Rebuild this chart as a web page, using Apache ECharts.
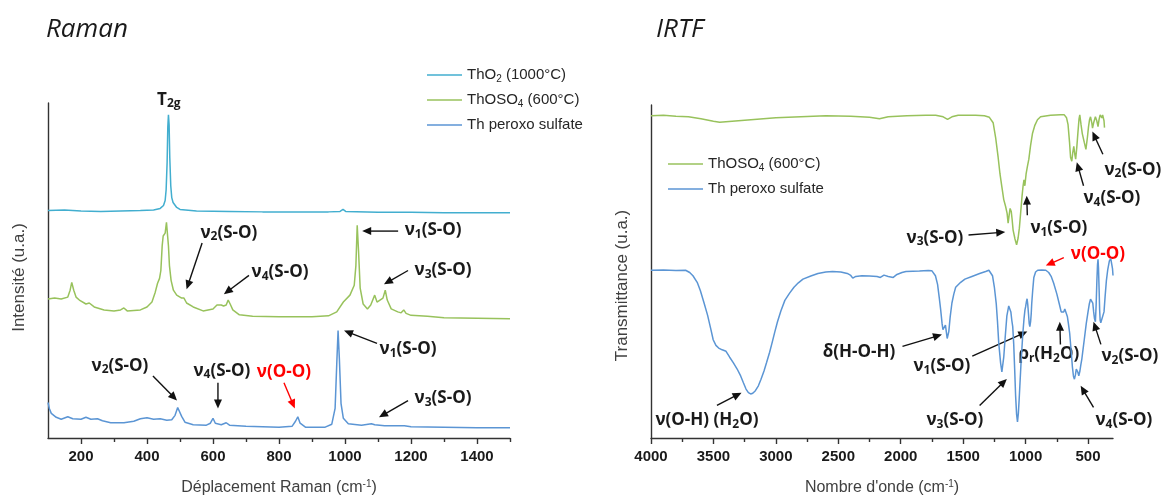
<!DOCTYPE html>
<html><head><meta charset="utf-8">
<script src="https://cdn.jsdelivr.net/npm/echarts@6/dist/echarts.min.js"></script>
<style>html,body{margin:0;padding:0;background:#fff}#c{width:1165px;height:502px}</style>
</head><body><div id="c"></div>
<script>
// ---------- DATA ----------
const ramanThO2 = [[100,231],[150,231.5],[200,230.5],[260,230],[320,230.5],[380,231],[420,231.5],[440,233],[450,236],[455,241],[458,252],[461,280],[463,315],[465,328],[467,318],[469,285],[472,256],[475,244],[479,239],[484,237],[490,234],[500,232],[550,230.5],[650,230],[750,229.5],[850,229.5],[950,229.5],[985,230],[994,232],[1002,230],[1100,229],[1200,229],[1300,228.5],[1400,228.5],[1500,228.5]];
const ramanThOSO4 = [[100,141],[120,142],[140,141],[160,143],[167,150],[172,158],[178,150],[185,143],[195,140],[215,136],[225,137],[240,133],[270,130],[300,129],[320,130],[330,132],[340,129],[380,130],[400,133],[415,138],[425,148],[432,157],[438,162],[442,170],[446,195],[449,205],[452,204],[455,208],[459,219],[462,219],[465,195],[468,175],[473,160],[480,150],[490,145],[505,142],[512,142],[520,137],[540,133],[570,129],[600,131],[612,135],[618,137],[625,135],[632,134],[640,135],[646,140],[652,136],[660,130],[680,125],[720,123.5],[800,123],[900,123],[950,124],[975,128],[995,138],[1015,145],[1028,155],[1033,175],[1037,216],[1041,190],[1046,152],[1055,136],[1068,131],[1078,135],[1090,145],[1097,138],[1103,137],[1115,142],[1122,150],[1128,140],[1140,131],[1160,128],[1170,127],[1178,130],[1185,126.5],[1200,124.5],[1250,123.5],[1300,122],[1400,121.5],[1500,121]];
const ramanPeroxo = [[100,36],[104,30],[110,25],[125,21],[140,19],[160,21.5],[175,19.5],[200,19],[215,21],[230,19],[250,19.5],[265,17.5],[290,15.5],[330,15.5],[360,17],[380,19.5],[400,20.5],[420,19],[440,19.5],[460,18],[475,18.5],[485,23],[493,31],[498,30],[505,22],[515,16],[540,13.5],[580,13],[592,15],[600,20],[607,15],[625,13.5],[640,15.5],[650,13],[700,12],[800,11],[840,12],[850,17],[857,21.5],[864,15],[880,11],[940,11],[960,14],[970,30],[975,75],[979,109],[983,80],[988,35],[995,20],[1010,14.5],[1050,13],[1080,14.5],[1090,13.5],[1120,12.5],[1180,12.5],[1200,11.5],[1300,11],[1400,10.5],[1500,10.5]];
const irThOSO4 = [[4000,327],[3900,327.5],[3800,326.5],[3700,326],[3600,324],[3500,321.5],[3450,320.5],[3350,321.5],[3200,323],[3000,325],[2800,326],[2600,327],[2400,326.5],[2250,325.5],[2170,324],[2100,326],[1950,327],[1800,327.5],[1720,327.5],[1660,326],[1625,323.5],[1590,326],[1540,327.5],[1400,327.5],[1330,327],[1290,325.5],[1260,320],[1240,305],[1220,285],[1205,268],[1190,255],[1175,242],[1160,235],[1148,228],[1140,218],[1132,226],[1124,233],[1115,230],[1108,222],[1100,211],[1085,202],[1072,196],[1060,203],[1050,213],[1040,228],[1028,246],[1020,256],[1013,262],[1006,256],[996,268],[985,276],[974,283],[960,297],[945,309],[927,317],[905,323],[880,326],[800,327.5],[720,328],[690,328],[672,325],[660,318],[648,300],[640,285],[630,281],[622,290],[614,296],[606,288],[599,283],[590,295],[581,310],[572,324],[566,328],[556,318],[546,309],[530,300],[517,293],[505,305],[496,316],[488,323],[480,326],[470,320],[464,314.5],[455,320],[441,326],[430,322],[420,316],[412,323],[403,328],[396,326],[389,325],[383,328],[377,330],[372,322],[368,315]];
const irPeroxo = [[4000,170.3],[3900,170.5],[3800,170],[3723,170.3],[3690,168],[3664,164.7],[3630,158],[3605,149.7],[3575,137],[3547,124.7],[3520,110],[3502,99.7],[3480,94],[3458,91.3],[3430,89.5],[3399,88],[3370,82],[3340,76.3],[3310,70],[3282,63],[3260,56],[3239,49.7],[3220,46],[3202,44.7],[3185,45.5],[3164,48],[3140,53],[3119,59.7],[3095,68],[3075,76.3],[3050,87],[3031,96.3],[3010,107],[2987,118],[2960,129],[2928,139.7],[2890,147],[2855,153],[2820,157.5],[2783,161.3],[2720,164.5],[2663,167],[2600,168.5],[2546,169],[2480,168.5],[2428,167],[2400,165],[2384,162.3],[2360,164],[2311,164.7],[2250,164.5],[2190,164],[2163,163],[2150,165],[2134,165.3],[2100,164],[2060,163],[2030,166],[1990,168],[1958,169],[1850,169.5],[1780,170],[1750,169.7],[1735,168],[1722,164.7],[1705,156],[1692,143],[1680,130],[1669,116.3],[1662,110],[1654,108],[1647,112],[1642,114.7],[1635,108],[1628,101],[1622,100],[1615,108],[1604,123],[1590,137],[1575,146],[1560,153],[1520,158],[1486,161.3],[1430,164],[1368,167],[1320,169],[1294,170.3],[1280,169.5],[1265,164.7],[1250,153],[1235,136.3],[1225,118],[1215,96.3],[1200,76],[1190,67],[1183,68],[1175,82],[1163,103],[1150,124],[1135,134],[1127,134.7],[1118,128],[1110,119],[1103,113],[1095,95],[1087,68],[1080,43],[1072,24],[1065,16.3],[1058,25],[1052,38],[1046,53],[1035,80],[1022,106.3],[1012,122],[1005,130],[1000,133],[994,138],[988,141.3],[983,136],[977,126.3],[971,116],[966,113],[960,118],[955,126],[951,136.3],[943,150],[934,163],[920,168.5],[903,170.3],[870,170.5],[838,170.3],[815,168],[794,163.7],[775,157],[750,146.3],[730,136],[715,128],[706,126.3],[695,128],[686,131],[677,131.3],[665,123],[656,115],[647,106.3],[635,88],[625,72],[617,63],[609,59.7],[601,64],[594,70],[590,71.3],[582,67],[574,63],[565,68],[558,74],[550,79.7],[540,90],[530,100],[514,116.3],[500,128],[490,136],[480,141],[470,143],[462,137],[455,128],[448,121],[441,118],[435,135],[429,160],[424,176],[420,181.3],[416,172],[411,150],[407,130],[403,119.7],[398,117],[392,117.5],[382,118],[372,128],[363,144],[353,159.7],[342,171],[329,179.7],[318,182],[310,181.3],[304,172],[300,165]];

const ramanMajorTicks = [200,400,600,800,1000,1200,1400];
const ramanMinorTicks = [300,500,700,900,1100,1300,1500];
const irMajorTicks = [500,1000,1500,2000,2500,3000,3500,4000];
const irMinorTicks = [750,1250,1750,2250,2750,3250,3750];

const nameThO2 = 'ThO2 (1000°C)';
const nameThOSO4 = 'ThOSO4 (600°C)';
const namePeroxo = 'Th peroxo sulfate';

// annotations: [seriesIndex, text, x, y, color]
const ramanLabels = [
  [0,'T_{2g}',466,343,'#1a1a1a'],
  [0,'ν_{1}(S-O)',1267,211,'#1a1a1a'],
  [0,'ν_{2}(S-O)',648,208,'#1a1a1a'],
  [0,'ν_{4}(S-O)',803,168,'#1a1a1a'],
  [0,'ν_{3}(S-O)',1297,170,'#1a1a1a'],
  [0,'ν_{1}(S-O)',1191,90,'#1a1a1a'],
  [0,'ν_{2}(S-O)',318,73,'#1a1a1a'],
  [0,'ν_{4}(S-O)',627,68,'#1a1a1a'],
  [0,'ν(O-O)',815,67,'#ff0000'],
  [0,'ν_{3}(S-O)',1297,40,'#1a1a1a']
];
const ramanArrows = [
  [0,[1161,210],[1052,210],'#111'],
  [0,[567,198],[520,151],'#111'],
  [0,[709,165],[633,146],'#111'],
  [0,[1191,170],[1118,156],'#111'],
  [0,[1097,96],[997,109],'#111'],
  [0,[418,63],[491,38],'#111'],
  [0,[615,56],[615,30],'#111'],
  [0,[815,56],[848,30],'#ff0000'],
  [0,[1191,38],[1103,21],'#111']
];
const irLabels = [
  [3,'ν_{2}(S-O)',141,272,'#1a1a1a'],
  [3,'ν_{4}(S-O)',309,243,'#1a1a1a'],
  [3,'ν_{1}(S-O)',734,213,'#1a1a1a'],
  [3,'ν_{3}(S-O)',1726,203,'#1a1a1a'],
  [3,'ν(O-O)',421,187,'#ff0000'],
  [3,'δ(H-O-H)',2335,87,'#1a1a1a'],
  [3,'ν_{1}(S-O)',1670,73,'#1a1a1a'],
  [3,'ρ_{r}(H_{2}O)',814,85,'#1a1a1a'],
  [3,'ν_{2}(S-O)',165,83,'#1a1a1a'],
  [3,'ν_{4}(S-O)',213,18,'#1a1a1a'],
  [3,'ν_{3}(S-O)',1566,18,'#1a1a1a'],
  [3,'ν(O-H) (H_{2}O)',3552,18,'#1a1a1a']
];
const irArrows = [
  [3,[381,288],[465,311],'#111'],
  [3,[536,256],[590,280],'#111'],
  [3,[986,226],[991,246],'#111'],
  [3,[1457,206],[1163,209],'#111'],
  [3,[694,183],[838,175],'#ff0000'],
  [3,[1986,93],[1670,105],'#111'],
  [3,[1427,83],[986,108],'#111'],
  [3,[721,95],[726,118],'#111'],
  [3,[397,95],[456,118],'#111'],
  [3,[456,31],[559,53],'#111'],
  [3,[1368,33],[1150,60],'#111'],
  [3,[3472,33],[3275,46],'#111']
];

// ---------- STYLE ----------
const C_THO2 = '#42AECF', C_GREEN = '#98C25C', C_BLUE = '#5B95D4';
const AX = '#333333';
const LBL_FONT = 'Liberation Sans';
const ANN_FONT = 'Open Sans';
const subRich = {
  s: {fontSize: 10, lineHeight: 8, verticalAlign: 'bottom', fontFamily: LBL_FONT, color: '#262626'},
  sup: {fontSize: 10, lineHeight: 8, verticalAlign: 'top', fontFamily: LBL_FONT, color: '#404040'}
};
function legendFmt(n) {
  if (n === nameThO2) return 'ThO{s|2} (1000°C)';
  if (n === nameThOSO4) return 'ThOSO{s|4} (600°C)';
  return n;
}
function xAxisPair(grid, min, max, inverse, major, minor, name) {
  return [{
    type: 'value', gridIndex: grid, min: min, max: max, inverse: inverse, position: 'bottom',
    axisLine: {show: true, onZero: false, lineStyle: {color: AX, width: 1.4}},
    axisTick: {show: true, length: 6, customValues: major, lineStyle: {color: AX, width: 1.4}},
    axisLabel: {customValues: major, margin: 11, color: '#1a1a1a', fontSize: 15, fontWeight: 'bold', fontFamily: LBL_FONT,
      formatter: v => String(v)},
    splitLine: {show: false},
    name: name, nameLocation: 'middle', nameGap: 41,
    nameTextStyle: {fontSize: 16, color: '#404040', fontFamily: LBL_FONT, lineHeight: 18, rich: subRich}
  }, {
    type: 'value', gridIndex: grid, min: min, max: max, inverse: inverse, position: 'bottom',
    axisLine: {show: false},
    axisTick: {show: true, length: 4, customValues: minor, lineStyle: {color: AX, width: 1.4}},
    axisLabel: {show: false}, splitLine: {show: false}
  }];
}
function yAxis(grid, max, name, shift) {
  return {
    type: 'value', gridIndex: grid, min: 0, max: max,
    axisLine: {show: true, lineStyle: {color: AX, width: 1.4}},
    axisTick: {show: false}, axisLabel: {show: false}, splitLine: {show: false},
    name: name, nameLocation: 'middle', nameGap: 20,
    nameTextStyle: {fontSize: 17, color: '#404040', fontFamily: LBL_FONT, padding: [0, shift * 2, 0, 0]}
  };
}
function line(name, data, color, xi, yi) {
  return {type: 'line', name: name, data: data, xAxisIndex: xi, yAxisIndex: yi,
    showSymbol: false, symbol: 'none', smooth: false, lineStyle: {color: color, width: 1.5},
    itemStyle: {color: color}, silent: true, clip: false};
}

const chart = echarts.init(document.getElementById('c'));
const xa = xAxisPair(0, 100, 1500, false, ramanMajorTicks, ramanMinorTicks, 'Déplacement Raman (cm{sup|-1})')
  .concat(xAxisPair(1, 300, 4000, true, irMajorTicks, irMinorTicks, 'Nombre d\'onde (cm{sup|-1})'));
chart.setOption({
  animation: false,
  grid: [
    {left: 48, top: 103, width: 462, height: 340},
    {left: 651, top: 105, width: 462, height: 338}
  ],
  xAxis: xa,
  yAxis: [yAxis(0, 340, 'Intensité (u.a.)', 7), yAxis(1, 338, 'Transmittance (u.a.)', 14)],
  legend: [
    {data: [nameThO2, nameThOSO4, namePeroxo], left: 422, top: 61, orient: 'vertical',
     icon: 'rect', itemWidth: 35, itemHeight: 1.5, itemGap: 7, selectedMode: false, formatter: legendFmt,
     textStyle: {fontSize: 15, color: '#262626', fontFamily: LBL_FONT, lineHeight: 18, rich: subRich}},
    {data: [nameThOSO4, namePeroxo], left: 663, top: 150, orient: 'vertical',
     icon: 'rect', itemWidth: 35, itemHeight: 1.5, itemGap: 7, selectedMode: false, formatter: legendFmt,
     textStyle: {fontSize: 15, color: '#262626', fontFamily: LBL_FONT, lineHeight: 18, rich: subRich}}
  ],
  series: [
    line(nameThO2, ramanThO2, C_THO2, 0, 0),
    line(nameThOSO4, ramanThOSO4, C_GREEN, 0, 0),
    line(namePeroxo, ramanPeroxo, C_BLUE, 0, 0),
    line(nameThOSO4, irThOSO4, C_GREEN, 2, 1),
    line(namePeroxo, irPeroxo, C_BLUE, 2, 1)
  ]
});

// ---------- ANNOTATIONS ----------
function richText(str, color) {
  const parts = str.split(/_\{([^}]*)\}/);
  let out = '';
  parts.forEach((p, i) => { if (p.length) out += (i % 2 ? '{s|' : '{n|') + p + '}'; });
  return {text: out, rich: {
    n: {fontSize: 17, fontWeight: 'bold', fontFamily: ANN_FONT, fill: color, lineHeight: 20},
    s: {fontSize: 12, fontWeight: 'bold', fontFamily: ANN_FONT, fill: color, lineHeight: 10, verticalAlign: 'bottom'}
  }};
}
const g = [];
g.push({type: 'text', x: 46, y: 30, style: {text: 'Raman', font: 'italic 26px "Open Sans"', fill: '#1a1a1a', align: 'left', verticalAlign: 'middle'}});
g.push({type: 'text', x: 656, y: 30, style: {text: 'IRTF', font: 'italic 26px "Open Sans"', fill: '#1a1a1a', align: 'left', verticalAlign: 'middle'}});
ramanLabels.concat(irLabels).forEach(a => {
  const p = chart.convertToPixel({seriesIndex: a[0]}, [a[2], a[3]]);
  const rt = richText(a[1], a[4]);
  g.push({type: 'text', x: p[0], y: p[1], style: {text: rt.text, rich: rt.rich, align: 'center', verticalAlign: 'middle', fill: a[4]}});
});
ramanArrows.concat(irArrows).forEach(a => {
  const p1 = chart.convertToPixel({seriesIndex: a[0]}, a[1]);
  const p2 = chart.convertToPixel({seriesIndex: a[0]}, a[2]);
  const dx = p2[0] - p1[0], dy = p2[1] - p1[1];
  const L = Math.sqrt(dx * dx + dy * dy) || 1;
  const ux = dx / L, uy = dy / L, nx = -uy, ny = ux;
  const hl = 9, hw = 4;
  const bx = p2[0] - ux * hl, by = p2[1] - uy * hl;
  g.push({type: 'line', shape: {x1: p1[0], y1: p1[1], x2: bx + ux * 2, y2: by + uy * 2}, style: {stroke: a[3], lineWidth: 1.4}});
  g.push({type: 'polygon', shape: {points: [[p2[0], p2[1]], [bx + nx * hw, by + ny * hw], [bx - nx * hw, by - ny * hw]]}, style: {fill: a[3]}});
});
chart.setOption({graphic: g});
</script></body></html>
